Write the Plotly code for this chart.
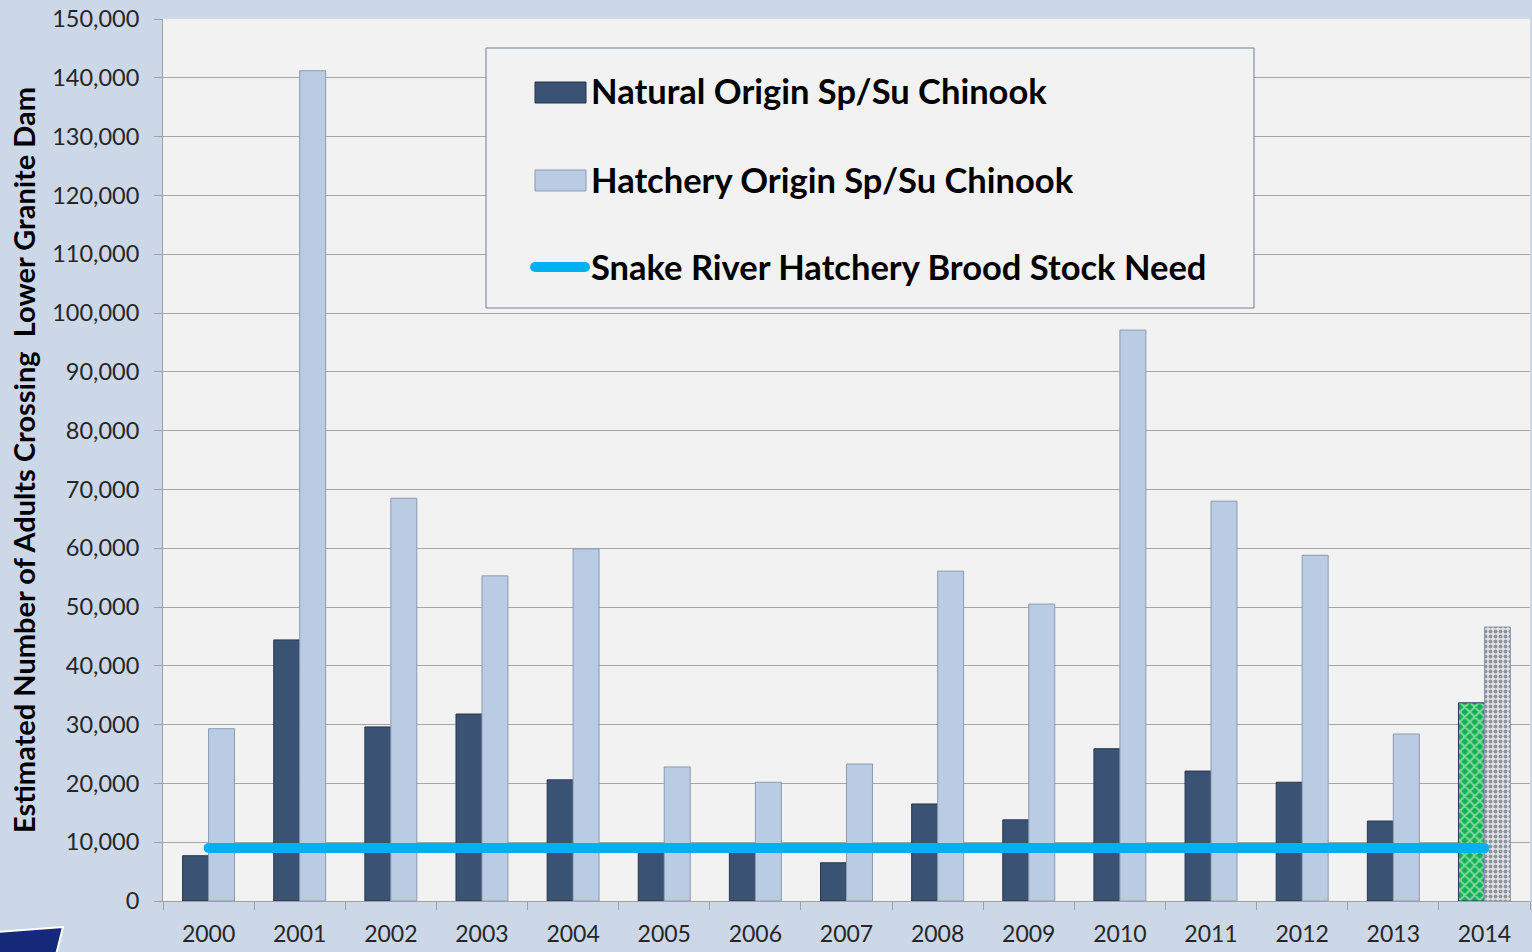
import plotly.graph_objects as go

# data
years = ['2000', '2001', '2002', '2003', '2004', '2005', '2006', '2007',
         '2008', '2009', '2010', '2011', '2012', '2013', '2014']
natural = [7700, 44400, 29600, 31800, 20600, 8900, 8500, 6500,
           16500, 13800, 25900, 22100, 20200, 13600, 33700]
hatchery = [29300, 141200, 68500, 55300, 59900, 22800, 20200, 23300,
            56100, 50500, 97100, 68000, 58800, 28400, 46600]
brood_need = [9000, 9000, 9000, 9000, 9000, 9000, 9000, 9000,
              9000, 9000, 9000, 9000, 9000, 9000, 9000]
y_ticks = list(range(0, 150001, 10000))
legend_names = ['Natural Origin Sp/Su Chinook',
                'Hatchery Origin Sp/Su Chinook',
                'Snake River Hatchery Brood Stock Need']

NAVY = '#3a5273'
LIGHT = '#b9cce3'
LINE = '#00b0f0'

# 2014 is a preliminary year -> patterned bars
nat_colors = [NAVY] * 14 + ['#12b14f']
nat_shapes = [''] * 14 + ['x']
hat_colors = [LIGHT] * 14 + ['#dfe4ea']
hat_shapes = [''] * 14 + ['.']

# plot area in pixels (for placing the legend box)
L, R, T, B = 163, 1530, 19, 901
def px(x):
    return (x - L) / (R - L)
def py(y):
    return (B - y) / (B - T)

fig = go.Figure()

fig.add_trace(go.Bar(
    x=years, y=natural, name=legend_names[0],
    marker=dict(color=nat_colors, line=dict(color='#26374f', width=1),
                pattern=dict(shape=nat_shapes, fgcolor='#3a5273', size=7, solidity=0.45)),
))
fig.add_trace(go.Bar(
    x=years, y=hatchery, name=legend_names[1],
    marker=dict(color=hat_colors, line=dict(color='#8b9bb0', width=1),
                pattern=dict(shape=hat_shapes, fgcolor='#4d6384', size=5, solidity=0.5)),
))
fig.add_trace(go.Scatter(
    x=years, y=brood_need, name=legend_names[2],
    mode='lines', line=dict(color=LINE, width=10),
))
# round ends of the brood stock line
fig.add_trace(go.Scatter(
    x=[years[0], years[-1]], y=[brood_need[0], brood_need[-1]],
    mode='markers', marker=dict(color=LINE, size=10), hoverinfo='skip',
))

# legend drawn by hand so the swatches match the original
shapes = [
    dict(type='rect', xref='paper', yref='paper', layer='above',
         x0=px(486), x1=px(1254), y0=py(308), y1=py(48),
         fillcolor='#f2f2f2', line=dict(color='#6f7f98', width=1)),
    dict(type='rect', xref='paper', yref='paper', layer='above',
         x0=px(535), x1=px(586), y0=py(103), y1=py(82),
         fillcolor=NAVY, line=dict(color='#26374f', width=1)),
    dict(type='rect', xref='paper', yref='paper', layer='above',
         x0=px(535), x1=px(586), y0=py(191), y1=py(170),
         fillcolor=LIGHT, line=dict(color='#8b9bb0', width=1)),
    dict(type='line', xref='paper', yref='paper', layer='above',
         x0=px(535), x1=px(585), y0=py(267), y1=py(267),
         line=dict(color=LINE, width=10)),
    dict(type='circle', xref='paper', yref='paper', layer='above',
         x0=px(530), x1=px(540), y0=py(272), y1=py(262),
         fillcolor=LINE, line=dict(width=0)),
    dict(type='circle', xref='paper', yref='paper', layer='above',
         x0=px(580), x1=px(590), y0=py(272), y1=py(262),
         fillcolor=LINE, line=dict(width=0)),
    # corner logo
    dict(type='path', xref='paper', yref='paper',
         path='M %f,%f L %f,%f L %f,%f L %f,%f Z' % (
             px(-5), py(932), px(63), py(927), px(56), py(955), px(-5), py(955)),
         fillcolor='#15297a', line=dict(color='#ffffff', width=2)),
]
annotations = [
    dict(text=name, xref='paper', yref='paper', x=px(589), y=py(yc),
         xanchor='left', yanchor='middle', showarrow=False,
         font=dict(size=34.5, color='#000000', family='Lato, sans-serif', weight='bold'))
    for name, yc in zip(legend_names, [91, 179, 266])
]

fig.update_layout(
    width=1532, height=952,
    margin=dict(l=L, r=1532 - R, t=T, b=952 - B),
    paper_bgcolor='#ccd8e8',
    plot_bgcolor='#f2f2f2',
    font=dict(family='Lato, "Open Sans", sans-serif', color='#222222'),
    barmode='group', bargap=0.43, bargroupgap=0,
    showlegend=False,
    shapes=shapes,
    annotations=annotations,
)

fig.update_xaxes(
    type='category', range=[-0.5, 14.5], showgrid=False,
    showline=True, linecolor='#a0a0a0', linewidth=1,
    ticks='outside', tickson='boundaries', ticklen=8, tickcolor='#a0a0a0',
    tickfont=dict(size=23, color='#262626'), ticklabelstandoff=12,
)
fig.update_yaxes(
    range=[0, 150000], tickvals=y_ticks, tickformat=',d',
    showgrid=True, gridcolor='#a6a6a6', gridwidth=1,
    showline=True, linecolor='#a0a0a0', linewidth=1,
    ticks='outside', ticklen=8, tickcolor='#a0a0a0',
    tickfont=dict(size=23.5, color='#262626'), ticklabelstandoff=10,
    zeroline=False,
    title=dict(text='Estimated Number of Adults Crossing  Lower Granite Dam',
               font=dict(size=29, color='#000000', family='Lato, sans-serif', weight='bold'),
               standoff=8),
)

fig.write_html('out.html', config={'displayModeBar': False},
               post_script="document.body.style.margin='0';")
